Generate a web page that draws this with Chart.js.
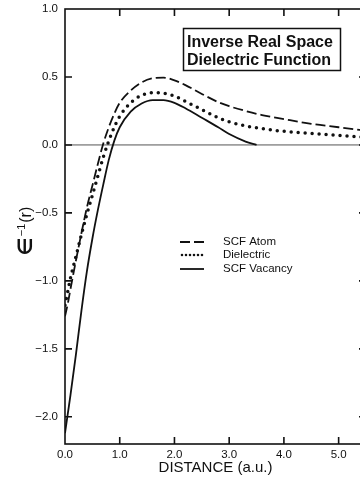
<!DOCTYPE html>
<html>
<head>
<meta charset="utf-8">
<script src="https://cdn.jsdelivr.net/npm/chart.js@4.4.1/dist/chart.umd.min.js"></script>
<style>
  html, body { margin: 0; padding: 0; background: #fff; overflow: hidden; }
  #wrap { width: 372px; height: 479px; }
</style>
</head>
<body>
<div id="wrap"><canvas id="epsChart" width="372" height="479"></canvas></div>
<script>
// distance grid (a.u.) shared by the atom and dielectric curves
var distance = [0, 0.05, 0.1, 0.2, 0.3, 0.4, 0.5, 0.6, 0.7, 0.8, 0.9, 1.0, 1.2, 1.4, 1.6, 1.8, 2.0, 2.2, 2.5, 2.8, 3.0, 3.3, 3.6, 4.0, 4.5, 5.0, 5.5];
var scfAtom = [-1.26, -1.17, -1.06, -0.85, -0.65, -0.46, -0.30, -0.14, 0.01, 0.13, 0.23, 0.31, 0.40, 0.46, 0.49, 0.495, 0.475, 0.44, 0.375, 0.315, 0.285, 0.25, 0.22, 0.19, 0.155, 0.13, 0.105];
var dielectric = [-1.18, -1.08, -0.98, -0.82, -0.66, -0.51, -0.37, -0.23, -0.09, 0.03, 0.13, 0.21, 0.31, 0.365, 0.385, 0.38, 0.36, 0.32, 0.26, 0.20, 0.17, 0.14, 0.12, 0.10, 0.085, 0.07, 0.055];
// vacancy curve dies out before 4 a.u.
var vacancyDistance = [0, 0.05, 0.1, 0.2, 0.3, 0.4, 0.5, 0.6, 0.7, 0.8, 0.9, 1.0, 1.2, 1.4, 1.6, 1.8, 2.0, 2.2, 2.5, 2.8, 3.0, 3.3, 3.5];
var scfVacancy = [-2.12, -1.98, -1.84, -1.54, -1.22, -0.93, -0.69, -0.48, -0.29, -0.11, 0.03, 0.13, 0.245, 0.305, 0.33, 0.33, 0.31, 0.27, 0.20, 0.13, 0.08, 0.025, 0.0];

var seriesNames = ['SCF Atom', 'Dielectric', 'SCF Vacancy'];
var xTickValues = [0, 1, 2, 3, 4, 5];
var yTickValues = [1.0, 0.5, 0.0, -0.5, -1.0, -1.5, -2.0];
var titleLines = ['Inverse Real Space', 'Dielectric Function'];
var xTitle = 'DISTANCE (a.u.)';

var font = '"Liberation Sans", Arial, Helvetica, sans-serif';

function toPoints(xs, ys) {
    return xs.map(function (x, i) { return { x: x, y: ys[i] }; });
}

function fmt(v) {
    var s = Math.abs(v).toFixed(1);
    return v < 0 ? '\u2212' + s : s;
}

// frame, inward ticks, zero line, boxed title, legend and axis titles
var decor = {
    id: 'decor',
    beforeDatasetsDraw: function (chart) {
        var ctx = chart.ctx;
        var area = chart.chartArea;
        var y0 = chart.scales.y.getPixelForValue(0);
        ctx.save();
        ctx.strokeStyle = '#555';
        ctx.lineWidth = 1;
        ctx.beginPath();
        ctx.moveTo(area.left, y0);
        ctx.lineTo(area.right, y0);
        ctx.stroke();
        ctx.restore();
    },
    afterDraw: function (chart) {
        var ctx = chart.ctx;
        var area = chart.chartArea;
        var xs = chart.scales.x;
        var ys = chart.scales.y;
        var tick = 7;
        ctx.save();
        ctx.strokeStyle = '#111';
        ctx.lineWidth = 1.6;
        ctx.strokeRect(area.left, area.top, area.right - area.left, area.bottom - area.top);

        ctx.beginPath();
        xTickValues.forEach(function (v) {
            if (v === 0) return;
            var px = xs.getPixelForValue(v);
            ctx.moveTo(px, area.bottom);
            ctx.lineTo(px, area.bottom - tick);
            ctx.moveTo(px, area.top);
            ctx.lineTo(px, area.top + tick);
        });
        yTickValues.forEach(function (v) {
            if (v === 1.0) return;
            var py = ys.getPixelForValue(v);
            ctx.moveTo(area.left, py);
            ctx.lineTo(area.left + tick, py);
            ctx.moveTo(area.right, py);
            ctx.lineTo(area.right - tick, py);
        });
        ctx.stroke();

        // boxed title
        ctx.fillStyle = '#fff';
        ctx.fillRect(183, 28, 158, 43);
        ctx.lineWidth = 1.5;
        ctx.strokeRect(183.5, 28.5, 157, 42);
        ctx.fillStyle = '#111';
        ctx.font = 'bold 16px ' + font;
        ctx.textAlign = 'left';
        ctx.textBaseline = 'alphabetic';
        ctx.fillText(titleLines[0], 187, 47);
        ctx.fillText(titleLines[1], 187, 65);

        // legend samples use each dataset's own stroke style
        var rows = [242, 255, 269];
        chart.data.datasets.forEach(function (ds, i) {
            var y = rows[i];
            ctx.save();
            ctx.strokeStyle = ds.borderColor;
            ctx.lineWidth = i === 1 ? 2.6 : ds.borderWidth;
            ctx.lineCap = ds.borderCapStyle || 'butt';
            ctx.setLineDash(i === 1 ? [0, 4] : (ds.borderDash || []));
            ctx.beginPath();
            ctx.moveTo(i === 1 ? 182 : 180, y);
            ctx.lineTo(i === 1 ? 203 : 204, y);
            ctx.stroke();
            ctx.restore();
            ctx.font = '11.5px ' + font;
            ctx.textBaseline = 'middle';
            ctx.fillText(ds.label, 223, y);
        });

        // x axis title
        ctx.font = '15px ' + font;
        ctx.textAlign = 'center';
        ctx.textBaseline = 'middle';
        ctx.fillText(xTitle, (area.left + area.right) / 2, 468);

        // y axis title: epsilon^-1(r), rotated
        ctx.translate(25, 231);
        ctx.rotate(-Math.PI / 2);
        ctx.textAlign = 'left';
        ctx.textBaseline = 'alphabetic';
        var epsFont = 'bold 20px "DejaVu Sans", ' + font;
        var supFont = '11px ' + font;
        var mainFont = '16px ' + font;
        ctx.font = epsFont;
        var wE = ctx.measureText('\u2208').width;
        ctx.font = supFont;
        var wS = ctx.measureText('\u22121').width;
        ctx.font = mainFont;
        var wR = ctx.measureText('(r)').width;
        var x = -(wE + wS + wR + 2) / 2;
        ctx.font = epsFont;
        ctx.fillText('\u2208', x, 7);
        x += wE + 1;
        ctx.font = supFont;
        ctx.fillText('\u22121', x, 0);
        x += wS + 1;
        ctx.font = mainFont;
        ctx.fillText('(r)', x, 6);
        ctx.restore();
    }
};

var ctx = document.getElementById('epsChart').getContext('2d');
var chart = new Chart(ctx, {
    type: 'line',
    data: {
        datasets: [{
            label: seriesNames[0],
            data: toPoints(distance, scfAtom),
            borderColor: '#111',
            borderWidth: 1.8,
            borderDash: [10, 4]
        }, {
            label: seriesNames[1],
            data: toPoints(distance, dielectric),
            borderColor: '#111',
            borderWidth: 3.5,
            borderDash: [0, 7],
            borderCapStyle: 'round'
        }, {
            label: seriesNames[2],
            data: toPoints(vacancyDistance, scfVacancy),
            borderColor: '#111',
            borderWidth: 1.8
        }]
    },
    options: {
        responsive: false,
        devicePixelRatio: 1,
        animation: false,
        events: [],
        layout: { padding: { top: 9, right: 6, left: 0, bottom: 0 } },
        elements: {
            point: { radius: 0 },
            line: { cubicInterpolationMode: 'monotone', fill: false }
        },
        plugins: {
            legend: { display: false },
            tooltip: { enabled: false }
        },
        scales: {
            x: {
                type: 'linear',
                min: 0,
                max: 5.5,
                grid: { display: false, drawTicks: false },
                border: { display: false },
                afterBuildTicks: function (scale) {
                    scale.ticks = xTickValues.map(function (v) { return { value: v }; });
                },
                afterFit: function (scale) {
                    scale.height = 35;
                    scale.paddingLeft = 0;
                    scale.paddingRight = 0;
                },
                ticks: {
                    autoSkip: false,
                    maxRotation: 0,
                    padding: 4,
                    color: '#111',
                    font: { family: font, size: 11.5 },
                    callback: function (v) { return fmt(v); }
                }
            },
            y: {
                min: -2.2,
                max: 1.0,
                grid: { display: false, drawTicks: false },
                border: { display: false },
                afterBuildTicks: function (scale) {
                    scale.ticks = yTickValues.map(function (v) { return { value: v }; });
                },
                afterFit: function (scale) {
                    scale.width = 65;
                    scale.paddingTop = 0;
                    scale.paddingBottom = 0;
                },
                ticks: {
                    autoSkip: false,
                    padding: 7,
                    color: '#111',
                    font: { family: font, size: 11.5 },
                    callback: function (v) { return fmt(v); }
                }
            }
        }
    },
    plugins: [decor]
});
</script>
</body>
</html>
